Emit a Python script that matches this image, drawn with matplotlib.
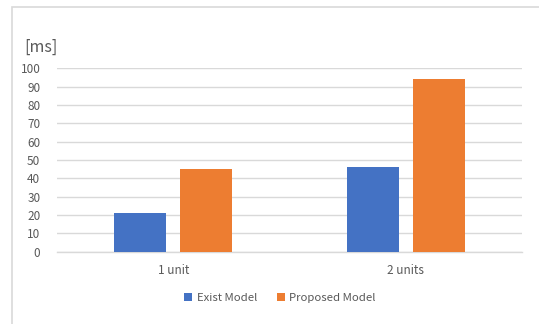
import matplotlib.pyplot as plt
import matplotlib.patches as mpatches
import numpy as np

plt.rcParams['font.family'] = ['Noto Sans CJK JP', 'DejaVu Sans']

categories = ["1 unit", "2 units"]
exist_model = [21.3, 46.0]
proposed_model = [45.0, 94.4]
y_ticks = [0, 10, 20, 30, 40, 50, 60, 70, 80, 90, 100]

blue = "#4472C4"
orange = "#ED7D31"
text_gray = "#595959"
grid_gray = "#D9D9D9"

fig = plt.figure(figsize=(5.39, 3.24), dpi=100)

# light frame around the chart area
fig.patches.append(mpatches.Rectangle((12 / 539, -0.1), 1.2, (324 - 7) / 324 + 0.1,
                                      transform=fig.transFigure, fill=False,
                                      edgecolor="#D9D9D9", linewidth=1.2))

ax = fig.add_axes([57 / 539, (324 - 251.7) / 324, 465 / 539, 183.4 / 324])

x = np.arange(len(categories))
w = 0.222
off = 0.142
ax.bar(x - off, exist_model, w, color=blue, label="Exist Model", zorder=3)
ax.bar(x + off, proposed_model, w, color=orange, label="Proposed Model", zorder=3)

ax.set_xlim(-0.5, 1.5)
ax.set_ylim(0, 100)
ax.set_yticks(y_ticks)
ax.set_xticks(x)
ax.set_xticklabels(categories)
ax.tick_params(axis='both', length=0, labelsize=8.5, colors=text_gray)
ax.tick_params(axis='y', pad=12)
ax.tick_params(axis='x', pad=9)

ax.yaxis.grid(True, color=grid_gray, linewidth=1, zorder=0)
for s in ["top", "right", "left"]:
    ax.spines[s].set_visible(False)
ax.spines["bottom"].set_color(grid_gray)
ax.spines["bottom"].set_linewidth(1)

fig.text(24 / 539, 1 - 47 / 324, "[ms]", fontsize=11.5, color=text_gray, va="center")

ax.legend(loc="center", bbox_to_anchor=((280 - 57) / 465, (298 - 251.7) / -183.4),
          ncol=2, frameon=False, fontsize=8.2, handlelength=0.7, handleheight=0.7,
          handletextpad=0.4, columnspacing=1.7, labelcolor=text_gray)

fig.savefig("out.png", dpi=100)
